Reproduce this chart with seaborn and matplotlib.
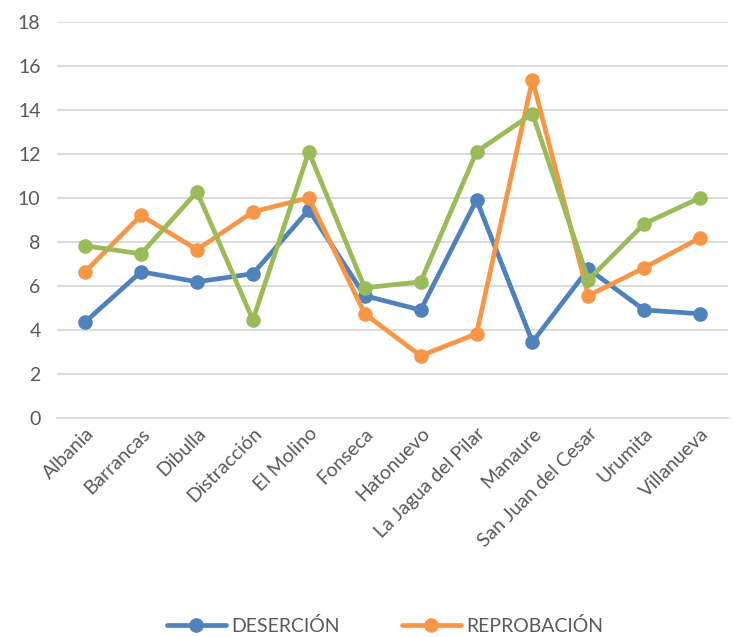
import pandas as pd
import matplotlib
matplotlib.use("Agg")
import matplotlib.pyplot as plt
import seaborn as sns

municipios = ["Albania", "Barrancas", "Dibulla", "Distracción", "El Molino", "Fonseca",
              "Hatonuevo", "La Jagua del Pilar", "Manaure", "San Juan del Cesar",
              "Urumita", "Villanueva"]
desercion = [4.36, 6.64, 6.18, 6.55, 9.45, 5.55, 4.9, 9.9, 3.45, 6.77, 4.9, 4.73]
reprobacion = [6.64, 9.2, 7.64, 9.36, 10.0, 4.73, 2.82, 3.82, 15.36, 5.55, 6.82, 8.18]
tercera = [7.82, 7.45, 10.27, 4.45, 12.09, 5.91, 6.18, 12.09, 13.82, 6.27, 8.82, 10.0]
series = ["DESERCIÓN", "REPROBACIÓN", "OTRA"]
colores = ["#4F81BD", "#F79646", "#9BBB59"]

df = pd.DataFrame({
    "municipio": municipios * 3,
    "valor": desercion + reprobacion + tercera,
    "serie": [series[0]] * 12 + [series[1]] * 12 + [series[2]] * 12,
})

sns.set_style("white")
plt.rcParams["font.family"] = ["Lato", "DejaVu Sans"]

fig = plt.figure(figsize=(7.34, 6.37), dpi=100)
ax = fig.add_axes([0.078, 0.344, 0.914, 0.622])

sns.lineplot(data=df, x="municipio", y="valor", hue="serie", hue_order=series,
             palette=colores, marker="o", markersize=10.5, markeredgewidth=0,
             linewidth=3.4, sort=False, legend=False, ax=ax)

ax.set_ylim(0, 18)
ax.set_yticks(range(0, 19, 2))
ax.set_xlim(-0.5, 11.5)
ax.set_xlabel("")
ax.set_ylabel("")
ax.yaxis.grid(True, color="#d9d9d9", linewidth=1.3)
ax.set_axisbelow(True)
for s in ["top", "right", "left"]:
    ax.spines[s].set_visible(False)
ax.spines["bottom"].set_color("#d9d9d9")
ax.spines["bottom"].set_linewidth(1.3)
ax.tick_params(axis="both", length=0, labelsize=14, labelcolor="#595959")
ax.tick_params(axis="y", pad=12)
ax.tick_params(axis="x", pad=5)
plt.setp(ax.get_xticklabels(), rotation=45, ha="right", rotation_mode="anchor")

lines = ax.get_lines()[:2]
fig.legend(lines, series[:2], loc="center", bbox_to_anchor=(0.525, 0.017),
           ncol=2, frameon=False, fontsize=14, labelcolor="#595959",
           handlelength=3.0, columnspacing=3.2, handletextpad=0.3)

fig.savefig("out.png", dpi=100)
